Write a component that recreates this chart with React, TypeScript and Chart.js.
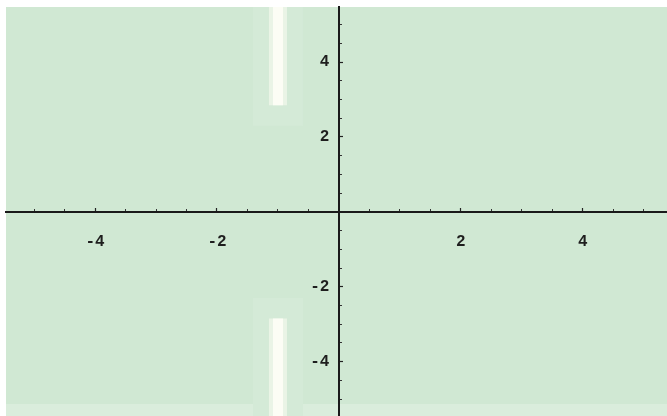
import React, { useEffect, useRef } from "react";
import { Chart, registerables } from "chart.js";

Chart.register(...registerables);

// Axis ranges (plot units)
const xRange = [-5.46, 5.38];
const yRange = [-5.45, 5.47];

// Tick values
const xMajorTicks = [-4, -2, 2, 4];
const xMinorTicks = [-5, -4.5, -3.5, -3, -2.5, -1.5, -1, -0.5, 0.5, 1, 1.5, 2.5, 3, 3.5, 4.5, 5];
const yMajorTicks = [-4, -2, 2, 4];
const yMinorTicks = [-5, -4.5, -3.5, -3, -2.5, -1.5, -1, -0.5, 0.5, 1, 1.5, 2.5, 3, 3.5, 4.5, 5];
const xMajorLabels = ["-4", "-2", "2", "4"];
const yMajorLabels = ["-4", "-2", "2", "4"];

// Branch-cut strip at x = -1 for |y| beyond the start value
const cutX = -1;
const cutUpper = [2.85, 5.6];
const cutLower = [-2.85, -5.6];
const glowUpper = [2.3, 5.6];
const glowLower = [-2.3, -5.6];

const GREEN = "rgb(208,232,211)";

const bgPlugin = {
  id: "bg",
  beforeDraw(chart: any) {
    const { ctx, chartArea, width, height } = chart;
    ctx.save();
    ctx.fillStyle = "#ffffff";
    ctx.fillRect(0, 0, width, height);
    ctx.fillStyle = GREEN;
    ctx.fillRect(chartArea.left, chartArea.top, chartArea.right - chartArea.left, chartArea.bottom - chartArea.top);
    ctx.fillStyle = "rgba(255,255,255,0.22)";
    ctx.fillRect(chartArea.left, chartArea.bottom - 12, chartArea.right - chartArea.left, 12);
    ctx.restore();
  },
};

function seg(x: number, ys: number[]) {
  return ys.map((y) => ({ x, y }));
}

function strip(ys: number[], width: number, color: string, order: number) {
  return {
    data: seg(cutX, ys),
    showLine: true,
    borderColor: color,
    backgroundColor: color,
    borderWidth: width,
    borderCapStyle: "butt" as const,
    pointRadius: 0,
    fill: false,
    order,
  };
}

const zeroPad = (s: any) => {
  s.paddingTop = 0;
  s.paddingBottom = 0;
  s.paddingLeft = 0;
  s.paddingRight = 0;
};

export default function App() {
  const ref = useRef<HTMLCanvasElement>(null);
  useEffect(() => {
    if (!ref.current) return;
    const font = { family: "'Liberation Mono', 'DejaVu Sans Mono', monospace", size: 16, weight: "bold" as const };
    const chart = new Chart(ref.current, {
      type: "scatter",
      data: {
        datasets: [
          strip(cutUpper, 10, "rgb(252,253,245)", 0),
          strip(cutLower, 10, "rgb(252,253,245)", 0),
          strip(cutUpper, 18, "rgb(234,244,230)", 1),
          strip(cutLower, 18, "rgb(234,244,230)", 1),
          strip(glowUpper, 50, "rgb(212,234,215)", 2),
          strip(glowLower, 50, "rgb(212,234,215)", 2),
        ],
      },
      options: {
        animation: false,
        responsive: false,
        events: [],
        layout: { padding: { left: 6, top: 7, right: 0, bottom: 0 } },
        plugins: { legend: { display: false }, tooltip: { enabled: false } },
        scales: {
          x2: {
            type: "linear",
            axis: "x",
            position: { y: 0 } as any,
            min: xRange[0],
            max: xRange[1],
            afterBuildTicks: (s: any) => { s.ticks = xMinorTicks.map((v) => ({ value: v })); },
            afterFit: zeroPad,
            ticks: { display: false },
            grid: { drawOnChartArea: false, drawTicks: true, tickLength: -3, tickColor: "#333", tickWidth: 1 },
            border: { display: false },
          },
          y2: {
            type: "linear",
            axis: "y",
            position: { x: 0 } as any,
            min: yRange[0],
            max: yRange[1],
            afterBuildTicks: (s: any) => { s.ticks = yMinorTicks.map((v) => ({ value: v })); },
            afterFit: zeroPad,
            ticks: { display: false },
            grid: { drawOnChartArea: false, drawTicks: true, tickLength: -3, tickColor: "#333", tickWidth: 1 },
            border: { display: false },
          },
          x: {
            type: "linear",
            position: { y: 0 } as any,
            min: xRange[0],
            max: xRange[1],
            afterBuildTicks: (s: any) => { s.ticks = xMajorTicks.map((v) => ({ value: v })); },
            afterFit: zeroPad,
            ticks: {
              padding: 25,
              color: "#1e1e1e",
              font,
              maxRotation: 0,
              autoSkip: false,
              callback: (v: any) => xMajorLabels[xMajorTicks.indexOf(Number(v))] ?? "",
            },
            grid: { drawOnChartArea: false, drawTicks: true, tickLength: -5, tickColor: "#222", tickWidth: 1.2 },
            border: { display: true, color: "#1a1a1a", width: 2 },
          },
          y: {
            type: "linear",
            position: { x: 0 } as any,
            min: yRange[0],
            max: yRange[1],
            afterBuildTicks: (s: any) => { s.ticks = yMajorTicks.map((v) => ({ value: v })); },
            afterFit: zeroPad,
            ticks: {
              padding: 16,
              color: "#1e1e1e",
              font,
              autoSkip: false,
              callback: (v: any) => {
                const t = yMajorLabels[yMajorTicks.indexOf(Number(v))];
                return t ? t + " " : "";
              },
            },
            grid: { drawOnChartArea: false, drawTicks: true, tickLength: -5, tickColor: "#222", tickWidth: 1.2 },
            border: { display: true, color: "#1a1a1a", width: 2 },
          },
        },
      },
      plugins: [bgPlugin],
    });
    return () => chart.destroy();
  }, []);
  return (
    <div style={{ position: "fixed", left: 0, top: 0, width: 667, height: 416, background: "#fff" }}>
      <canvas ref={ref} width={667} height={416} style={{ display: "block", width: 667, height: 416 }} />
    </div>
  );
}
